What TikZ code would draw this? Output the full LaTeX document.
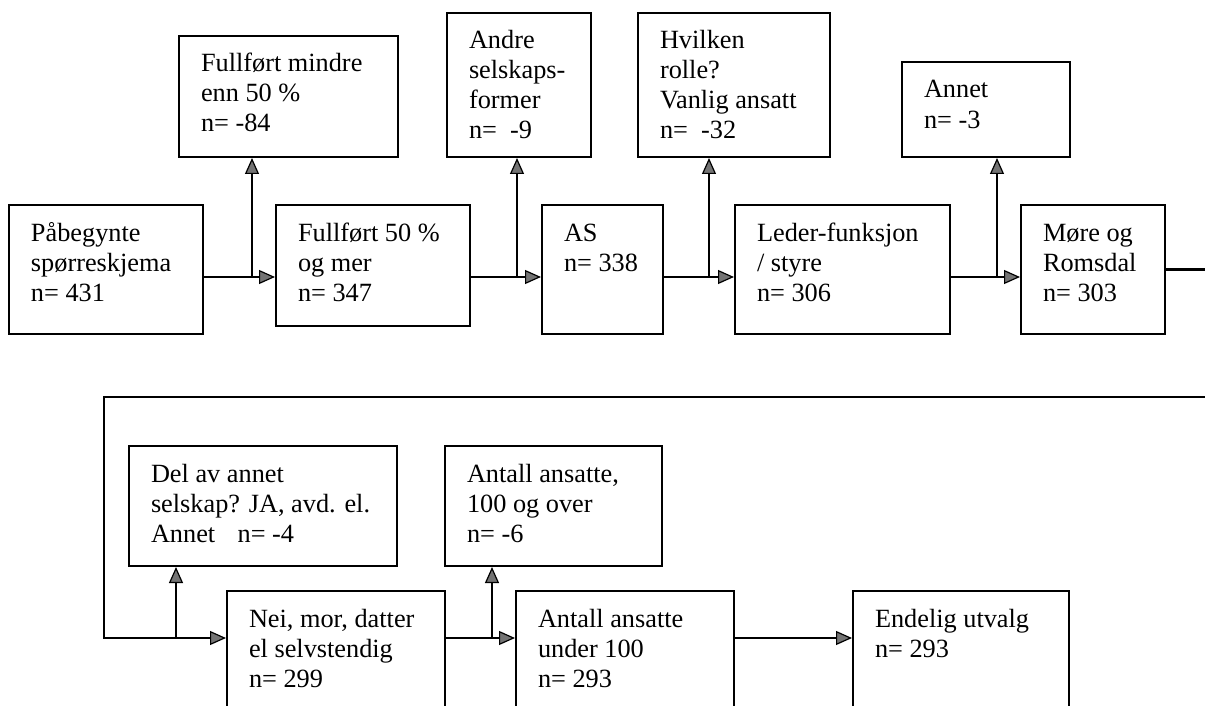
\documentclass[tikz,border=0pt]{standalone}
\usepackage{fontspec}
\setmainfont{Liberation Serif}
\usetikzlibrary{arrows.meta}
\tikzset{
  blk/.style={draw,line width=1pt,inner sep=0pt,anchor=north west,
    font=\fontsize{13.15}{15}\selectfont},
  arr/.style={-{Triangle[length=8pt,width=7pt,line width=0.6pt,fill=black!55]},line width=1.3pt},
  ln/.style={line width=1.3pt},
}
% box of given size (in px), text set from the top left corner
\newcommand{\cell}[3]{\parbox[c][\dimexpr #2pt/2\relax][t]{\dimexpr #1pt/2\relax}{%
  \raggedright\leftskip=11pt\relax\rule{0pt}{18pt}#3}}

\begin{document}
\begin{tikzpicture}[x=0.5pt,y=-0.5pt]
  \useasboundingbox (0,0) rectangle (1205,706);
  \clip (0,0) rectangle (1205,706);

  % first row
  \node[blk] (start) at (8,204) {\cell{194}{129}{Påbegynte\\spørreskjema\\n= 431}};
  \node[blk] (half) at (275,204) {\cell{194}{121}{Fullført 50 \%\\og mer\\n= 347}};
  \node[blk] (as) at (541,204) {\cell{121}{129}{AS\\n= 338}};
  \node[blk] (leder) at (734,204) {\cell{215}{129}{Leder-funksjon\\/ styre\\n= 306}};
  \node[blk] (more) at (1020,204) {\cell{144}{129}{Møre og\\Romsdal\\n= 303}};

  % drop-outs, first row
  \node[blk] (mindre) at (178,35) {\cell{219}{121}{Fullført mindre\\enn 50 \%\\n= -84}};
  \node[blk] (andre) at (446,12) {\cell{144}{144}{Andre\\selskaps-\\former\\n=~~-9}};
  \node[blk] (rolle) at (637,12) {\cell{192}{144}{Hvilken\\rolle?\\Vanlig ansatt\\n=~~-32}};
  \node[blk] (annet) at (901,61) {\cell{168}{95}{Annet\\n= -3}};

  \coordinate (r1) at (0,277);
  \coordinate (j1) at (252,277);
  \coordinate (j2) at (517,277);
  \coordinate (j3) at (709,277);
  \coordinate (j4) at (997,277);

  \draw[arr] (start.east |- r1) -- (half.west |- r1);
  \draw[arr] (half.east |- r1) -- (as.west |- r1);
  \draw[arr] (as.east |- r1) -- (leder.west |- r1);
  \draw[arr] (leder.east |- r1) -- (more.west |- r1);
  \draw[arr] (j1) -- (mindre.south -| j1);
  \draw[arr] (j2) -- (andre.south -| j2);
  \draw[arr] (j3) -- (rolle.south -| j3);
  \draw[arr] (j4) -- (annet.south -| j4);

  % second row
  \node[blk] (nei) at (226,590) {\cell{218}{160}{Nei, mor, datter\\el selvstendig\\n= 299}};
  \node[blk] (under) at (515,590) {\cell{218}{160}{Antall ansatte\\under 100\\n= 293}};
  \node[blk] (utvalg) at (852,590) {\cell{216}{160}{Endelig utvalg\\n= 293}};

  % drop-outs, second row
  \node[blk] (del) at (128,445) {\cell{268}{120}{Del av annet\\selskap? JA, avd. el.\\Annet\hspace{0.85em}n= -4}};
  \node[blk] (over) at (444,445) {\cell{217}{120}{Antall ansatte,\\100 og over\\n= -6}};

  \coordinate (r2) at (0,638);
  \coordinate (turn) at (104,397);
  \coordinate (j5) at (176,638);
  \coordinate (j6) at (492,638);

  \draw[arr] (more.east) -- ++(60,0) |- (turn) |- (nei.west |- r2);
  \draw[arr] (nei.east |- r2) -- (under.west |- r2);
  \draw[arr] (under.east |- r2) -- (utvalg.west |- r2);
  \draw[arr] (j5) -- (del.south -| j5);
  \draw[arr] (j6) -- (over.south -| j6);
\end{tikzpicture}
\end{document}
